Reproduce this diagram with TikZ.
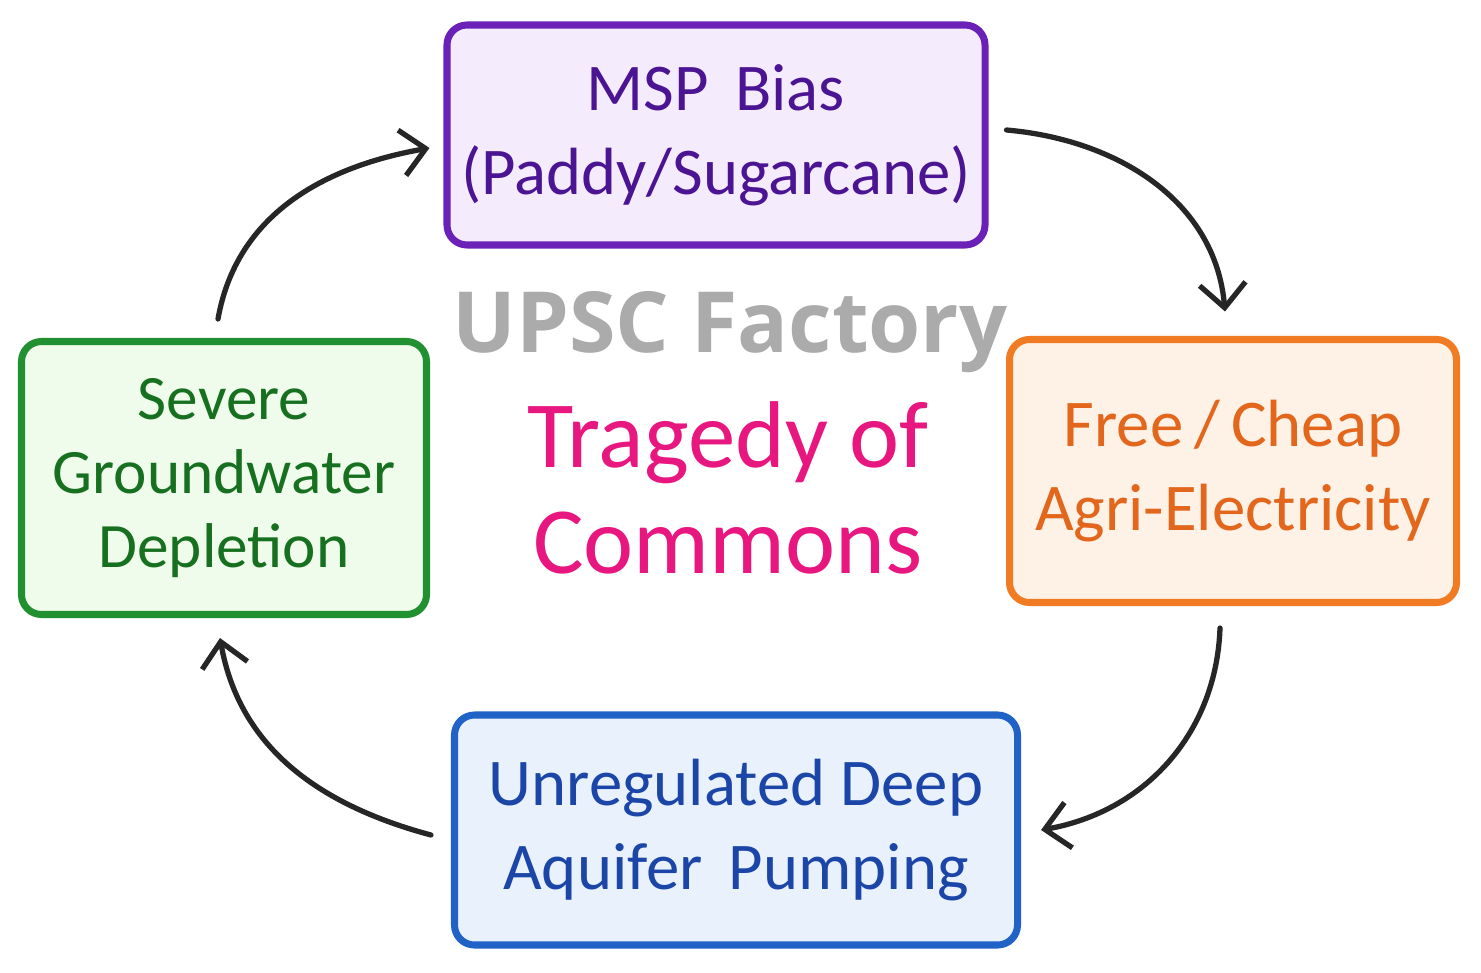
\documentclass[tikz,border=0pt]{standalone}
\usepackage{
	fontspec,			% System Fonts
	tikz,
	xcolor
}
\usetikzlibrary{arrows.meta}
\setmainfont{Carlito}
\newfontfamily\logofont{Open Sans}

\definecolor{mspline}{HTML}{6B21B8}
\definecolor{mspfill}{HTML}{F4ECFC}
\definecolor{msptext}{HTML}{4B1493}
\definecolor{powline}{HTML}{F07B22}
\definecolor{powfill}{HTML}{FEF1E6}
\definecolor{powtext}{HTML}{E2661B}
\definecolor{pumpline}{HTML}{2162C6}
\definecolor{pumpfill}{HTML}{E8F1FC}
\definecolor{pumptext}{HTML}{1B46A8}
\definecolor{deplline}{HTML}{219031}
\definecolor{deplfill}{HTML}{EFFBEB}
\definecolor{depltext}{HTML}{17701F}
\definecolor{titlepink}{HTML}{E8177F}
\definecolor{logogrey}{HTML}{ABABAB}

\tikzset{
	cyclebox/.style={draw, line width=2pt, rounded corners=0.2cm, align=center,
		inner sep=0pt, font=\fontsize{19}{24}\selectfont},
	cyclearrow/.style={-{Straight Barb[length=2.4mm,width=4.6mm]}, line width=1.5pt,
		line cap=round, color=black!85}
}

\begin{document}
\begin{tikzpicture}
		\useasboundingbox[fill=white] (0,0) rectangle (14.81,9.72);
		\node[cyclebox, draw=mspline, fill=mspfill, text=msptext,
			minimum width=5.38cm, minimum height=2.20cm] (msp) at (7.16,8.37)
			{MSP\, Bias\\(Paddy/Sugarcane)};
		\node[cyclebox, draw=powline, fill=powfill, text=powtext,
			minimum width=4.47cm, minimum height=2.63cm] (power) at (12.33,5.01)
			{Free\,/\,Cheap\\Agri-Electricity};
		\node[cyclebox, draw=pumpline, fill=pumpfill, text=pumptext,
			minimum width=5.63cm, minimum height=2.30cm] (pump) at (7.36,1.42)
			{Unregulated Deep\\Aquifer\, Pumping};
		\node[cyclebox, draw=deplline, fill=deplfill, text=depltext,
			minimum width=4.05cm, minimum height=2.73cm,
			font=\fontsize{18}{21}\selectfont] (depl) at (2.24,4.94)
			{Severe\\Groundwater\\Depletion};
		\node[text=logogrey, font=\logofont\bfseries\fontsize{24}{28}\selectfont] (logo) at (7.30,6.40) {UPSC Factory};
		\node[text=titlepink, align=center, font=\fontsize{27}{30}\selectfont] (title) at (7.28,4.84) {Tragedy of\\Commons};
		\draw[cyclearrow] ([shift={(0.18,0.05)}]msp.east) to[out=-5,in=95] ([shift={(-0.08,0.245)}]power.north);
		\draw[cyclearrow] ([shift={(-0.13,-0.22)}]power.south) to[out=-92,in=10] ([shift={(0.2,0)}]pump.east);
		\draw[cyclearrow] ([shift={(-0.2,-0.05)}]pump.west) to[out=165,in=-80] ([shift={(-0.04,-0.2)}]depl.south);
		\draw[cyclearrow] ([shift={(-0.06,0.19)}]depl.north) to[out=80,in=190] ([shift={(-0.14,-0.13)}]msp.west);
	\end{tikzpicture}
\end{document}
